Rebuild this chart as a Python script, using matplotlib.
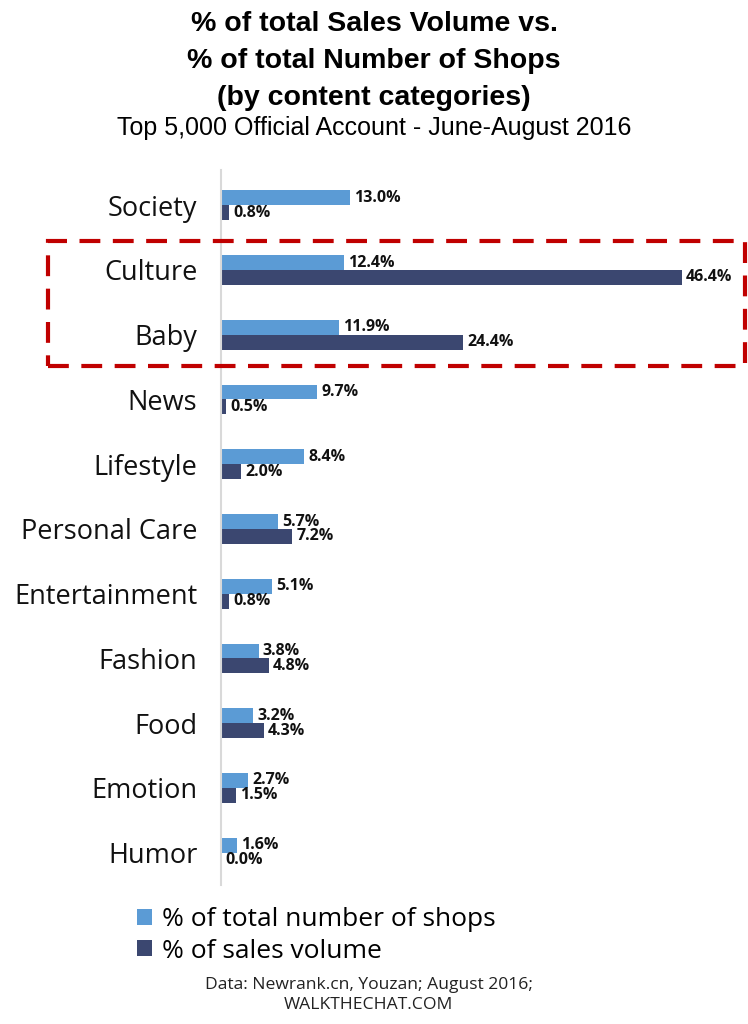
import matplotlib.pyplot as plt
import numpy as np
from matplotlib.patches import Rectangle

categories = ['Society', 'Culture', 'Baby', 'News', 'Lifestyle', 'Personal Care',
              'Entertainment', 'Fashion', 'Food', 'Emotion', 'Humor']
shops = [13.0, 12.4, 11.9, 9.7, 8.4, 5.7, 5.1, 3.8, 3.2, 2.7, 1.6]
sales = [0.8, 46.4, 24.4, 0.5, 2.0, 7.2, 0.8, 4.8, 4.3, 1.5, 0.0]
series_names = ['% of total number of shops', '% of sales volume']
colors = ['#5b9bd5', '#3b4770']

fig = plt.figure(figsize=[7.48, 10.24], dpi=100)
ax = fig.add_axes([0.2955, 0.1357, 0.69, 0.698])

y = np.arange(len(categories))
h = 0.23
b1 = ax.barh(y - h / 2, shops, height=h, color=colors[0], label=series_names[0])
b2 = ax.barh(y + h / 2, sales, height=h, color=colors[1], label=series_names[1])
for bars, vals in ((b1, shops), (b2, sales)):
    ax.bar_label(bars, labels=[f'{v:.1f}%' for v in vals], padding=3,
                 fontsize=11.5, fontweight='bold', family='Open Sans', color='#111111')

ax.set_ylim(10.5, -0.54)
ax.set_xlim(0, 52)
ax.set_yticks(y, categories, fontsize=19.5, family='Open Sans', color='#111111')
ax.tick_params(axis='y', length=0, pad=17)
ax.set_xticks([])
for s in ['top', 'right', 'bottom']:
    ax.spines[s].set_visible(False)
ax.spines['left'].set_color('#d9d9d9')
ax.spines['left'].set_linewidth(1.5)

# highlight box around Culture and Baby
fig.add_artist(Rectangle((48 / 748, 1 - 366 / 1024), 697 / 748, 125 / 1024,
                         transform=fig.transFigure, fill=False, edgecolor='#c00000',
                         linewidth=3, linestyle=(0, (5, 3)), clip_on=False))

fig.text(0.5, 0.940, '% of total Sales Volume vs.\n% of total Number of Shops\n(by content categories)',
         ha='center', va='center', fontsize=20.5, fontweight='bold', family='Liberation Sans',
         linespacing=1.55)
fig.text(0.5, 0.875, 'Top 5,000 Official Account - June-August 2016',
         ha='center', va='center', fontsize=18, family='Liberation Sans')

fig.legend(handles=[b1, b2], loc='upper left', bbox_to_anchor=(0.166, 0.127),
           frameon=False, prop={'family': 'Open Sans', 'size': 19},
           handlelength=0.55, handleheight=0.55, handletextpad=0.4, labelspacing=0.25,
           borderpad=0)

fig.text(0.493, 0.0283, 'Data: Newrank.cn, Youzan; August 2016;\nWALKTHECHAT.COM',
         ha='center', va='center', fontsize=12.6, family='Open Sans', color='#222222',
         linespacing=1.3)

fig.savefig('out.png', dpi=100)
